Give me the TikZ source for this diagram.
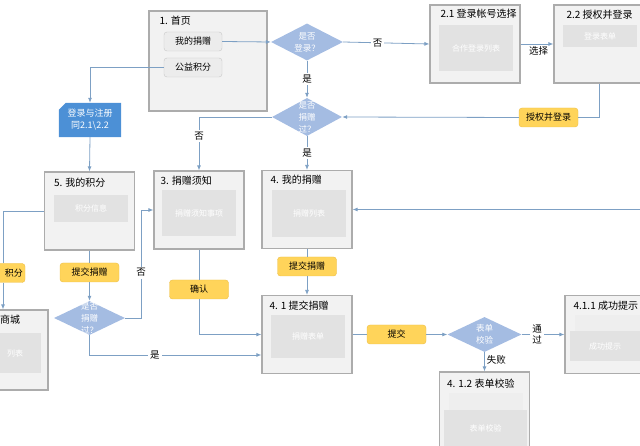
\documentclass[tikz,border=0pt]{standalone}
\usepackage{fontspec}
\setmainfont{Noto Sans CJK SC}
\usetikzlibrary{shapes.geometric, arrows.meta, backgrounds, calc}

\definecolor{pageline}{RGB}{172,172,172}
\definecolor{pagefill}{RGB}{242,242,242}
\definecolor{panelfill}{RGB}{226,226,226}
\definecolor{flowline}{RGB}{125,160,196}
\definecolor{tagfill}{RGB}{255,212,90}
\definecolor{tagline}{RGB}{236,190,70}
\definecolor{decfill}{RGB}{164,188,226}
\definecolor{regfill}{RGB}{76,144,214}
\definecolor{btnfill}{RGB}{236,236,236}
\definecolor{btnline}{RGB}{200,200,200}

\tikzset{
  page/.style={draw=pageline, fill=pagefill, line width=1.2pt,
    minimum width=90pt, minimum height=78pt, inner sep=0pt},
  panel/.style={fill=panelfill, inner sep=0pt, minimum width=74pt,
    text=white, font=\fontsize{8}{9}\selectfont},
  ptitle/.style={anchor=north west, inner sep=0pt, font=\fontsize{10}{12}\selectfont},
  btn/.style={draw=btnline, fill=btnfill, rounded corners=3pt, minimum width=58pt,
    minimum height=19pt, inner sep=0pt, font=\fontsize{9}{11}\selectfont},
  decide/.style={diamond, fill=decfill, inner sep=0pt},
  dtext/.style={text=white, align=center, inner sep=0pt, font=\fontsize{8.5}{12}\selectfont},
  tag/.style={draw=tagline, fill=tagfill, rounded corners=3pt, minimum width=59pt,
    minimum height=19pt, inner sep=2pt, font=\fontsize{9}{11}\selectfont},
  lbl/.style={fill=white, inner sep=2pt, align=center, font=\fontsize{9.5}{11}\selectfont},
  flow/.style={draw=flowline, line width=0.8pt, -{Latex[length=5pt,width=4pt]}},
  link/.style={draw=flowline, line width=0.8pt},
}

\begin{document}
\begin{tikzpicture}[x=1pt, y=-1pt]
  \useasboundingbox (0,0) rectangle (640,446);
  \clip (0,0) rectangle (640,446);
  \coordinate (east) at (640,209.5);
  % pages
  \node[page, minimum width=118pt, minimum height=100pt] (home) at (208,61) {};
  \node[ptitle] (homet) at ([xshift=11pt,yshift=-5pt]home.north west) {1. 首页};
  \node[btn] (btnDonate) at (193,41.5) {我的捐赠};
  \node[btn] (btnPoints) at (193,67.5) {公益积分};

  \node[page] (acct) at (475,44) {};
  \node[ptitle] (acctt) at ([xshift=11pt,yshift=-5pt]acct.north west) {2.1 登录帐号选择};
  \node[panel, minimum height=46pt] (acctp) at (476,48) {合作登录列表};

  \node[page] (auth) at (599,44) {};
  \node[ptitle] (autht) at ([xshift=13pt,yshift=-5pt]auth.north west) {2.2 授权并登录};
  \node[panel, minimum height=22pt] (authp) at (600,36) {登录表单};

  \node[text=white, align=center, minimum width=62pt, minimum height=34pt, inner sep=0pt,
    font=\fontsize{9}{12}\selectfont] (reg) at (90,120) {登录与注册\\同2.1\textbackslash 2.2};
  \begin{scope}[on background layer]
    \fill[regfill] ([xshift=7pt]reg.north west) -- (reg.north east) -- (reg.south east)
      -- (reg.south west) -- ([yshift=-7pt]reg.north west) -- cycle;
  \end{scope}

  \node[page] (points) at (89.5,211) {};
  \node[ptitle] (pointst) at ([xshift=10pt,yshift=-6pt]points.north west) {5. 我的积分};
  \node[panel, minimum height=27pt] (pointsp) at (91,208.5) {积分信息};

  \node[page] (notice) at (199,210) {};
  \node[ptitle] (noticet) at ([xshift=7pt,yshift=-5pt]notice.north west) {3. 捐赠须知};
  \node[panel, minimum height=46pt] (noticep) at (199,213) {捐赠须知事项};

  \node[page] (mine) at (307,209.5) {};
  \node[ptitle] (minet) at ([xshift=9pt,yshift=-5pt]mine.north west) {4. 我的捐赠};
  \node[panel, minimum height=47pt] (minep) at (309,213.5) {捐赠列表};

  \node[page] (form) at (307,334.5) {};
  \node[ptitle] (formt) at ([xshift=8pt,yshift=-6pt]form.north west) {4. 1 提交捐赠};
  \node[panel, minimum height=43pt] (formp) at (308,336.5) {捐赠表单};

  \node[page] (ok) at (610,334.5) {};
  \node[ptitle] (okt) at ([xshift=9pt,yshift=-6pt]ok.north west) {4.1.1 成功提示};
  \node[panel, minimum width=65pt, minimum height=17pt, fill=panelfill!60] (okp1) at (607.5,323.5) {};
  \node[panel, minimum width=70pt, minimum height=30pt] (okp2) at (605,346) {成功提示};

  \node[page] (check) at (484.5,411) {};
  \node[ptitle] (checkt) at ([xshift=8pt,yshift=-7pt]check.north west) {4. 1.2 表单校验};
  \node[panel, minimum height=17pt, fill=panelfill!60] (checkp1) at (486,401.5) {};
  \node[panel, minimum width=83pt, minimum height=36pt] (checkp2) at (485.5,428) {表单校验};

  \node[page, minimum height=80pt] (mall) at (3,350) {};
  \node[ptitle] (mallt) at (0,315) {商城};
  \node[panel, minimum width=82pt, minimum height=40pt] (mallp) at (0,353) {};
  \node[text=white, inner sep=0pt, font=\fontsize{8}{9}\selectfont] (mallpt) at (15,353) {列表};

  % decisions
  \node[decide, minimum width=72pt, minimum height=37pt] (login) at (307,42) {};
  \node[dtext] (logint) at (login) {是否\\登录？};
  \node[decide, minimum width=70pt, minimum height=38pt] (donated) at (307,117) {};
  \node[dtext] (donatedt) at (donated) {是否\\捐赠\\过？};
  \node[decide, minimum width=71pt, minimum height=34pt] (donated2) at (89.5,318) {};
  \node[dtext] (donated2t) at (donated2) {是否\\捐赠\\过？};
  \node[decide, minimum width=74pt, minimum height=35pt] (valid) at (484.5,334.5) {};
  \node[dtext] (validt) at (valid) {表单\\校验};

  % tags
  \node[tag] (tagAuth) at (548.5,117.5) {授权并登录};
  \node[tag] (tagSubA) at (89.5,272.5) {提交捐赠};
  \node[tag, text width=40pt, align=right, minimum width=0pt] (tagPts) at (3,273) {积分};
  \node[tag] (tagOk) at (199,289.5) {确认};
  \node[tag] (tagSubB) at (307,266.5) {提交捐赠};
  \node[tag] (tagSend) at (396.5,334.5) {提交};

  % connectors
  \draw[flow] (btnDonate.east) -- (login.west);
  \draw[flow] (login.east) -- node[lbl, pos=0.4] (noLogin) {否} (acct.west);
  \draw[flow] (acct.east) -- node[lbl, below, fill=none, pos=0.55] (pick) {选择} (auth.west);
  \draw[link] (auth.south) |- (tagAuth.east);
  \draw[flow] (tagAuth.west) -- (donated.east);
  \draw[flow] (login.south) -- node[lbl] (yesLogin) {是} (donated.north);
  \draw[flow] (donated.west) -| node[lbl, pos=0.68] (noDonated) {否} (notice.north);
  \draw[flow] (donated.south) -- node[lbl] (yesDonated) {是} (mine.north);
  \draw[flow] (btnPoints.west) -| (reg.north);
  \draw[flow] (reg.south) -- (points.north);
  \draw[link] (points.west) -| (tagPts.north);
  \draw[flow] (tagPts.south) -- (mall.north);
  \draw[link] (points.south) -- (tagSubA.north);
  \draw[flow] (tagSubA.south) -- (donated2.north);
  \draw[flow] (donated2.east) -- ++(16,0) |- node[lbl, pos=0.21] (noDonated2) {否} (notice.west);
  \draw[flow] (donated2.south) |- node[lbl, pos=0.69] (yesDonated2) {是} ([yshift=-20.5pt]form.west);
  \draw[link] (notice.south) -- (tagOk.north);
  \draw[flow] (tagOk.south) |- (form.west);
  \draw[flow] (east) -- (mine.east);
  \draw[link] (mine.south) -- (tagSubB.north);
  \draw[flow] (tagSubB.south) -- (form.north);
  \draw[link] (form.east) -- (tagSend.west);
  \draw[flow] (tagSend.east) -- (valid.west);
  \draw[flow] (valid.east) -- node[lbl, pos=0.36] (pass) {通\\过} (ok.west);
  \draw[flow] (valid.south) -- node[lbl, right, fill=none, pos=0.4] (fail) {失败} (check.north);
\end{tikzpicture}
\end{document}
